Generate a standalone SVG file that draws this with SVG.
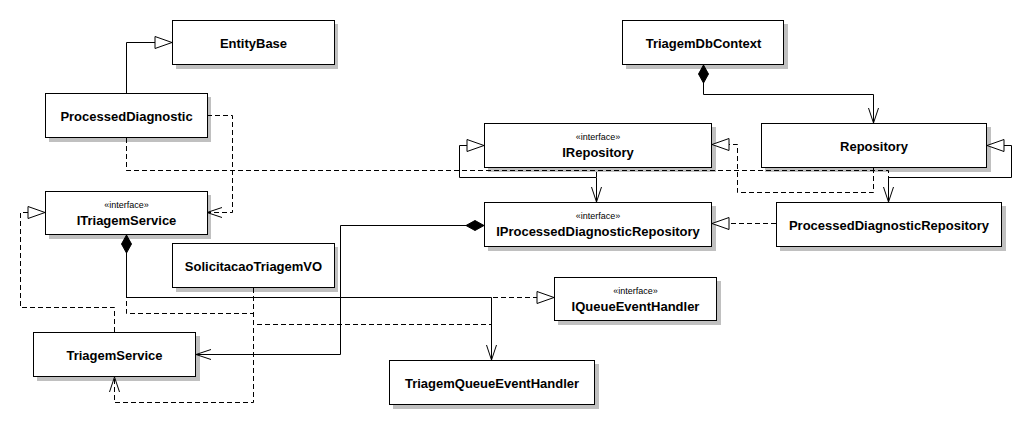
<svg xmlns="http://www.w3.org/2000/svg" width="1032" height="430" viewBox="0 0 1032 430">
<style>
.box{fill:#fff;stroke:#000;stroke-width:1}
.sh{fill:#c0c0c0}
.nm{font-family:"Liberation Sans",Arial,sans-serif;font-weight:bold;font-size:13px;fill:#000;text-anchor:middle}
.st{font-family:"Liberation Sans",Arial,sans-serif;font-size:9px;fill:#000;text-anchor:middle}
.ln{fill:none;stroke:#000;stroke-width:1}
.dl{fill:none;stroke:#000;stroke-width:1;stroke-dasharray:5,3}
</style>
<defs>
<marker id="tri" markerUnits="userSpaceOnUse" viewBox="-18 -7 19 14" refX="0" refY="0" markerWidth="19" markerHeight="14" orient="auto" overflow="visible">
<path d="M0,0 L-17,-6 L-17,6 Z" fill="#fff" stroke="#000" stroke-width="1"/>
</marker>
<marker id="arr" markerUnits="userSpaceOnUse" viewBox="-16 -6 17 12" refX="0" refY="0" markerWidth="17" markerHeight="12" orient="auto" overflow="visible">
<path d="M-15,-5 L0,0 L-15,5" fill="none" stroke="#000" stroke-width="1"/>
</marker>
<marker id="dia" markerUnits="userSpaceOnUse" viewBox="-19 -6 20 12" refX="0" refY="0" markerWidth="20" markerHeight="12" orient="auto-start-reverse" overflow="visible">
<path d="M0,0 L-9,-5 L-18,0 L-9,5 Z" fill="#000" stroke="#000" stroke-width="1"/>
</marker>
</defs>
<rect width="1032" height="430" fill="#fff"/>

<g id="EntityBase">
<rect class="sh" x="176" y="24" width="162" height="45"/>
<rect class="box" x="172.5" y="20.5" width="162" height="44"/>
<text class="nm" x="253.5" y="48">EntityBase</text>
</g>
<g id="ProcessedDiagnostic">
<rect class="sh" x="49" y="97" width="162" height="45"/>
<rect class="box" x="45.5" y="93.5" width="162" height="44"/>
<text class="nm" x="126.5" y="121">ProcessedDiagnostic</text>
</g>
<g id="ITriagemService">
<rect class="sh" x="49" y="195" width="162" height="44"/>
<rect class="box" x="45.5" y="191.5" width="162" height="43"/>
<text class="st" x="126.5" y="208">«interface»</text>
<text class="nm" x="126.5" y="225">ITriagemService</text>
</g>
<g id="SolicitacaoTriagemVO">
<rect class="sh" x="176" y="247" width="162" height="45"/>
<rect class="box" x="172.5" y="243.5" width="162" height="44"/>
<text class="nm" x="253.5" y="271">SolicitacaoTriagemVO</text>
</g>
<g id="TriagemService">
<rect class="sh" x="37" y="336" width="163" height="45"/>
<rect class="box" x="33.5" y="332.5" width="162" height="44"/>
<text class="nm" x="114.5" y="360">TriagemService</text>
</g>
<g id="TriagemDbContext">
<rect class="sh" x="626" y="24" width="162" height="45"/>
<rect class="box" x="622.5" y="20.5" width="161" height="44"/>
<text class="nm" x="703.5" y="48">TriagemDbContext</text>
</g>
<g id="IRepository">
<rect class="sh" x="488" y="127" width="228" height="45"/>
<rect class="box" x="484.5" y="123.5" width="227" height="44"/>
<text class="st" x="598" y="140">«interface»</text>
<text class="nm" x="598" y="157">IRepository</text>
</g>
<g id="Repository">
<rect class="sh" x="765" y="127" width="226" height="45"/>
<rect class="box" x="761.5" y="123.5" width="225" height="44"/>
<text class="nm" x="874" y="151">Repository</text>
</g>
<g id="IProcessedDiagnosticRepository">
<rect class="sh" x="488" y="206" width="228" height="45"/>
<rect class="box" x="484.5" y="202.5" width="227" height="44"/>
<text class="st" x="598" y="219">«interface»</text>
<text class="nm" x="598" y="236">IProcessedDiagnosticRepository</text>
</g>
<g id="ProcessedDiagnosticRepository">
<rect class="sh" x="780" y="206" width="226" height="45"/>
<rect class="box" x="776.5" y="202.5" width="225" height="44"/>
<text class="nm" x="889" y="230">ProcessedDiagnosticRepository</text>
</g>
<g id="IQueueEventHandler">
<rect class="sh" x="558" y="281" width="163" height="44"/>
<rect class="box" x="554.5" y="277.5" width="162" height="43"/>
<text class="st" x="635.5" y="294">«interface»</text>
<text class="nm" x="635.5" y="311">IQueueEventHandler</text>
</g>
<g id="TriagemQueueEventHandler">
<rect class="sh" x="393" y="364" width="206" height="45"/>
<rect class="box" x="389.5" y="360.5" width="205" height="44"/>
<text class="nm" x="492" y="388">TriagemQueueEventHandler</text>
</g>

<g id="connectors">
<path class="ln" d="M126.5,93 V42.5 H172" marker-end="url(#tri)"/>
<path class="dl" d="M207,115.5 H232.5 V212.5 H207" marker-end="url(#arr)"/>
<path class="dl" d="M126.5,138 V170.5 H596.5 V202" marker-end="url(#arr)"/>
<path class="dl" d="M126.5,138 V170.5 H888.5 V202" marker-end="url(#arr)"/>
<path class="ln" d="M596.5,202 V177.5 H459.5 V145.5 H484" marker-end="url(#tri)"/>
<path class="ln" d="M888.5,202 V177.5 H1011.5 V145.5 H987" marker-end="url(#tri)"/>
<path class="dl" d="M873.5,168 V192.5 H737.5 V144.5 H712" marker-end="url(#tri)"/>
<path class="ln" d="M703.5,65 V94.5 H873.5 V123" marker-start="url(#dia)" marker-end="url(#arr)"/>
<path class="dl" d="M776,223.5 H712" marker-end="url(#tri)"/>
<path class="ln" d="M484,225.5 H340.5 V354.5 H196" marker-start="url(#dia)" marker-end="url(#arr)"/>
<path class="dl" d="M491.5,360 V297.5 H554" marker-end="url(#tri)"/>
<path class="dl" d="M114.5,332 V307.5 H20.5 V212.5 H45" marker-end="url(#tri)"/>
<path class="dl" d="M253.5,288 V402.5 H114.5 V377" marker-end="url(#arr)"/>
<path class="dl" d="M253.5,288 V313.5 H126.5 V235"/>
<path class="dl" d="M253.5,288 V324.5 H491.5 V360"/>
<path class="ln" d="M126.5,235 V297.5 H491.5 V360" marker-start="url(#dia)" marker-end="url(#arr)"/>
</g>
</svg>
